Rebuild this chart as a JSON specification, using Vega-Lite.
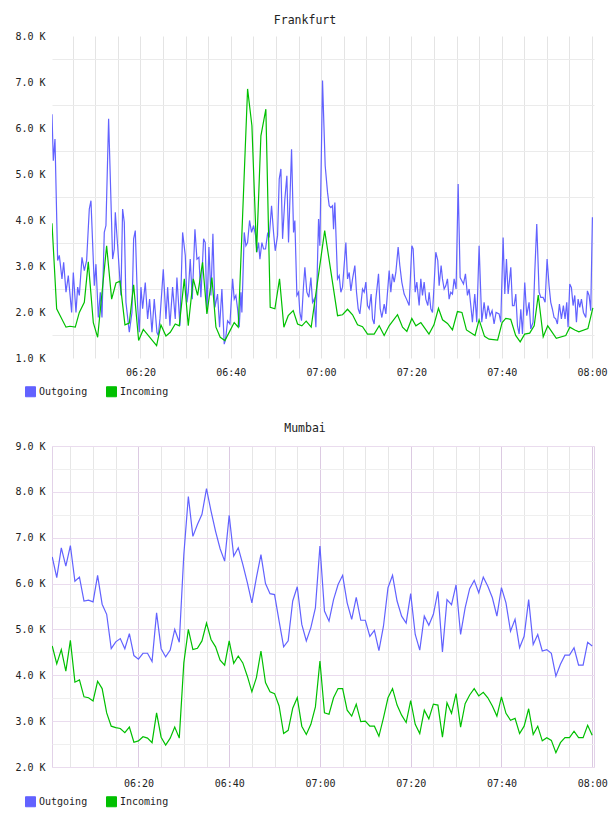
{
"$schema": "https://vega.github.io/schema/vega-lite/v6.json",
"padding": {"left": 14, "top": 15, "right": 0, "bottom": 0},
"background": "white",
"config": {
  "font": "DejaVu Sans Mono",
  "view": {"stroke": null},
  "axis": {"labelFont": "DejaVu Sans Mono", "labelFontSize": 10, "labelColor": "#222", "ticks": false, "domain": false, "title": null, "labelFlush": false, "labelOverlap": false, "labelBound": false},
  "legend": {"orient": "none", "legendX": -27, "legendY": 350, "direction": "horizontal", "title": null, "symbolType": "square", "symbolSize": 100, "labelFont": "DejaVu Sans Mono", "labelFontSize": 10, "labelColor": "#222", "columnPadding": 16, "labelOffset": 3},
  "title": {"font": "DejaVu Sans Mono", "fontSize": 11.5, "fontWeight": "normal", "color": "#222", "dx": -18, "offset": 4.5}
},
"resolve": {"legend": {"color": "independent"}},
"spacing": 23,
"datasets": {
"fra": [
{"t":0.4,"Outgoing":6.3},{"t":0.69,"Outgoing":5.29},{"t":1.06,"Outgoing":5.76},{"t":1.65,"Outgoing":3.12},{"t":2.02,"Outgoing":3.23},{"t":2.61,"Outgoing":2.72},{"t":2.98,"Outgoing":3.08},{"t":3.5,"Outgoing":2.43},{"t":4.01,"Outgoing":2.79},{"t":4.75,"Outgoing":1.99},{"t":5.12,"Outgoing":2.86},{"t":5.71,"Outgoing":1.99},{"t":6.08,"Outgoing":2.54},{"t":6.45,"Outgoing":2.36},{"t":7.04,"Outgoing":3.19},{"t":7.56,"Outgoing":2.9},{"t":8.07,"Outgoing":3.12},{"t":8.66,"Outgoing":4.24},{"t":9.03,"Outgoing":4.42},{"t":9.77,"Outgoing":2.57},{"t":10.14,"Outgoing":3.04},{"t":10.66,"Outgoing":1.88},{"t":11.1,"Outgoing":2.43},{"t":11.47,"Outgoing":1.88},{"t":11.98,"Outgoing":3.73},{"t":12.35,"Outgoing":3.88},{"t":12.94,"Outgoing":6.2},{"t":13.83,"Outgoing":3.15},{"t":14.2,"Outgoing":3.37},{"t":14.42,"Outgoing":4.17},{"t":14.94,"Outgoing":3.44},{"t":15.67,"Outgoing":2.36},{"t":16.04,"Outgoing":4.24},{"t":16.41,"Outgoing":3.95},{"t":16.78,"Outgoing":2.21},{"t":17.52,"Outgoing":1.56},{"t":18.11,"Outgoing":1.99},{"t":18.48,"Outgoing":3.59},{"t":18.85,"Outgoing":3.77},{"t":19.36,"Outgoing":2.14},{"t":19.73,"Outgoing":1.56},{"t":20.1,"Outgoing":2.54},{"t":20.47,"Outgoing":2.07},{"t":21.06,"Outgoing":2.64},{"t":21.58,"Outgoing":1.85},{"t":22.02,"Outgoing":2.28},{"t":22.54,"Outgoing":1.56},{"t":23.05,"Outgoing":2.28},{"t":23.64,"Outgoing":1.56},{"t":23.94,"Outgoing":1.49},{"t":24.31,"Outgoing":1.85},{"t":25.05,"Outgoing":2.93},{"t":25.64,"Outgoing":1.85},{"t":26.01,"Outgoing":2.54},{"t":26.52,"Outgoing":1.7},{"t":27.11,"Outgoing":2.54},{"t":27.7,"Outgoing":1.85},{"t":28.07,"Outgoing":2.75},{"t":28.74,"Outgoing":1.7},{"t":29.33,"Outgoing":3.73},{"t":29.92,"Outgoing":3.23},
{"t":30.29,"Outgoing":2.21},{"t":30.58,"Outgoing":2.43},{"t":31.02,"Outgoing":3.15},{"t":31.47,"Outgoing":2.28},{"t":32.06,"Outgoing":3.8},{"t":32.5,"Outgoing":3.15},{"t":32.94,"Outgoing":3.19},{"t":33.38,"Outgoing":2.32},{"t":33.98,"Outgoing":3.59},{"t":34.34,"Outgoing":3.51},{"t":34.71,"Outgoing":1.99},{"t":35.16,"Outgoing":3.41},{"t":35.6,"Outgoing":2.36},{"t":36.04,"Outgoing":3.7},{"t":36.48,"Outgoing":2.1},{"t":37.07,"Outgoing":2.39},{"t":37.52,"Outgoing":1.67},{"t":38.03,"Outgoing":2.5},{"t":38.55,"Outgoing":1.3},{"t":38.85,"Outgoing":1.41},{"t":39.29,"Outgoing":1.81},{"t":39.81,"Outgoing":1.74},{"t":40.4,"Outgoing":2.72},{"t":40.76,"Outgoing":2.28},{"t":41.13,"Outgoing":2.36},{"t":41.5,"Outgoing":2.07},{"t":41.87,"Outgoing":1.67},{"t":42.24,"Outgoing":2.43},{"t":42.46,"Outgoing":1.99},{"t":42.98,"Outgoing":3.73},{"t":43.35,"Outgoing":3.44},{"t":43.72,"Outgoing":3.51},{"t":44.16,"Outgoing":3.99},{"t":44.6,"Outgoing":3.73},{"t":45.05,"Outgoing":3.88},{"t":45.49,"Outgoing":3.66},{"t":45.78,"Outgoing":3.3},{"t":46.15,"Outgoing":3.51},{"t":46.45,"Outgoing":3.15},{"t":46.89,"Outgoing":3.51},{"t":47.26,"Outgoing":3.37},{"t":47.7,"Outgoing":3.37},{"t":48.14,"Outgoing":3.7},{"t":48.51,"Outgoing":3.62},{"t":49.03,"Outgoing":4.31},{"t":49.47,"Outgoing":3.73},{"t":49.84,"Outgoing":3.33},{"t":50.36,"Outgoing":3.66},{"t":50.73,"Outgoing":4.89},{"t":51.1,"Outgoing":5.11},{"t":51.47,"Outgoing":3.59},{"t":51.98,"Outgoing":4.46},{"t":52.42,"Outgoing":4.96},{"t":52.79,"Outgoing":3.51},{"t":53.46,"Outgoing":5.54},{"t":53.9,"Outgoing":3.73},{"t":54.19,"Outgoing":3.99},{"t":54.64,"Outgoing":2.36},{"t":55.01,"Outgoing":2.43},{"t":55.3,"Outgoing":1.99},{"t":55.67,"Outgoing":1.81},{"t":56.11,"Outgoing":2.57},{"t":56.41,"Outgoing":2.97},{"t":56.85,"Outgoing":2.43},{"t":57.29,"Outgoing":2.32},{"t":57.74,"Outgoing":2.75},{"t":58.11,"Outgoing":2.21},{"t":58.47,"Outgoing":2.28},{"t":58.85,"Outgoing":1.67},{"t":59.44,"Outgoing":4.02},{"t":59.73,"Outgoing":3.44},
{"t":60.32,"Outgoing":7.03},{"t":60.91,"Outgoing":5.18},{"t":61.43,"Outgoing":4.6},{"t":61.8,"Outgoing":4.31},{"t":62.17,"Outgoing":4.27},{"t":62.54,"Outgoing":4.31},{"t":62.76,"Outgoing":3.8},{"t":63.05,"Outgoing":4.38},{"t":63.64,"Outgoing":2.72},{"t":64.01,"Outgoing":2.79},{"t":64.38,"Outgoing":2.43},{"t":64.75,"Outgoing":2.54},{"t":65.49,"Outgoing":3.51},{"t":65.86,"Outgoing":2.72},{"t":66.23,"Outgoing":2.86},{"t":66.6,"Outgoing":2.46},{"t":66.97,"Outgoing":2.72},{"t":67.48,"Outgoing":3.01},{"t":67.85,"Outgoing":2.43},{"t":68.22,"Outgoing":2.07},{"t":68.59,"Outgoing":1.96},{"t":69.18,"Outgoing":2.5},{"t":69.55,"Outgoing":2.43},{"t":69.92,"Outgoing":2.65},{"t":70.29,"Outgoing":2.14},{"t":70.66,"Outgoing":2.07},{"t":71.09,"Outgoing":2.39},{"t":71.39,"Outgoing":1.85},{"t":71.76,"Outgoing":1.74},{"t":72.13,"Outgoing":2.28},{"t":72.72,"Outgoing":2.83},{"t":73.09,"Outgoing":2.07},{"t":73.46,"Outgoing":1.88},{"t":73.98,"Outgoing":2.17},{"t":74.35,"Outgoing":1.96},{"t":75.08,"Outgoing":2.9},{"t":75.45,"Outgoing":2.43},{"t":75.82,"Outgoing":2.83},{"t":76.19,"Outgoing":2.65},{"t":76.56,"Outgoing":2.86},{"t":77.07,"Outgoing":3.41},{"t":77.44,"Outgoing":3.01},{"t":77.88,"Outgoing":2.65},{"t":78.4,"Outgoing":2.39},{"t":78.92,"Outgoing":2.28},{"t":79.51,"Outgoing":2.14},{"t":80.1,"Outgoing":3.44},{"t":80.39,"Outgoing":3.37},{"t":80.84,"Outgoing":2.43},{"t":81.21,"Outgoing":2.65},{"t":81.72,"Outgoing":2.14},{"t":82.09,"Outgoing":2.72},{"t":82.46,"Outgoing":2.36},{"t":82.83,"Outgoing":2.65},{"t":83.2,"Outgoing":2.28},{"t":83.64,"Outgoing":2.14},{"t":83.94,"Outgoing":2.43},{"t":84.31,"Outgoing":2.07},{"t":84.68,"Outgoing":1.99},{"t":84.9,"Outgoing":2.36},{"t":85.41,"Outgoing":3.3},{"t":85.85,"Outgoing":3.12},{"t":86.15,"Outgoing":2.57},{"t":86.59,"Outgoing":3.01},{"t":86.89,"Outgoing":2.72},{"t":87.26,"Outgoing":2.5},{"t":87.62,"Outgoing":2.57},{"t":87.99,"Outgoing":2.72},{"t":88.36,"Outgoing":2.28},{"t":88.73,"Outgoing":2.43},{"t":89.1,"Outgoing":2.39},{"t":89.47,"Outgoing":2.72},{"t":89.9,"Outgoing":2.5},
{"t":90.36,"Outgoing":4.78},{"t":90.8,"Outgoing":2.75},{"t":91.17,"Outgoing":2.68},{"t":91.54,"Outgoing":2.61},{"t":91.98,"Outgoing":2.83},{"t":92.42,"Outgoing":2.36},{"t":92.79,"Outgoing":2.5},{"t":93.16,"Outgoing":2.14},{"t":93.52,"Outgoing":1.78},{"t":94.04,"Outgoing":2.39},{"t":94.48,"Outgoing":1.78},{"t":95.0,"Outgoing":3.44},{"t":95.59,"Outgoing":1.78},{"t":96.11,"Outgoing":2.21},{"t":96.55,"Outgoing":1.85},{"t":96.99,"Outgoing":2.14},{"t":97.44,"Outgoing":1.92},{"t":97.88,"Outgoing":2.03},{"t":98.32,"Outgoing":1.74},{"t":98.76,"Outgoing":1.99},{"t":99.43,"Outgoing":1.96},{"t":99.8,"Outgoing":1.78},{"t":100.32,"Outgoing":3.62},{"t":100.69,"Outgoing":2.39},{"t":101.06,"Outgoing":3.15},{"t":101.43,"Outgoing":2.39},{"t":102.02,"Outgoing":2.97},{"t":102.39,"Outgoing":2.14},{"t":102.76,"Outgoing":2.14},{"t":103.13,"Outgoing":2.39},{"t":103.5,"Outgoing":1.7},{"t":103.87,"Outgoing":1.52},{"t":104.24,"Outgoing":2.06},{"t":104.61,"Outgoing":1.52},{"t":105.11,"Outgoing":2.64},{"t":105.55,"Outgoing":1.92},{"t":106.07,"Outgoing":2.21},{"t":106.44,"Outgoing":1.63},{"t":106.95,"Outgoing":1.78},{"t":107.33,"Outgoing":2.86},{"t":107.77,"Outgoing":3.91},{"t":108.29,"Outgoing":2.43},{"t":108.66,"Outgoing":2.32},{"t":109.17,"Outgoing":2.32},{"t":109.62,"Outgoing":2.21},{"t":110.06,"Outgoing":3.15},{"t":110.5,"Outgoing":2.57},{"t":110.87,"Outgoing":2.21},{"t":111.24,"Outgoing":2.06},{"t":111.61,"Outgoing":1.88},{"t":111.98,"Outgoing":1.85},{"t":112.34,"Outgoing":1.74},{"t":112.79,"Outgoing":2.17},{"t":113.23,"Outgoing":1.85},{"t":113.67,"Outgoing":2.14},{"t":114.04,"Outgoing":1.85},{"t":114.41,"Outgoing":2.21},{"t":114.71,"Outgoing":1.67},{"t":115.08,"Outgoing":2.61},{"t":115.45,"Outgoing":2.53},{"t":115.82,"Outgoing":2.14},{"t":116.19,"Outgoing":2.36},{"t":116.56,"Outgoing":1.78},{"t":116.93,"Outgoing":2.28},{"t":117.3,"Outgoing":2.1},{"t":117.67,"Outgoing":2.28},{"t":118.11,"Outgoing":1.99},{"t":118.63,"Outgoing":1.88},{"t":118.99,"Outgoing":2.46},{"t":119.36,"Outgoing":2.36},{"t":119.73,"Outgoing":2.03},{"t":120.1,"Outgoing":4.06},
{"t":0.4,"Incoming":3.93},{"t":1.43,"Incoming":2.07},{"t":3.5,"Incoming":1.67},{"t":4.38,"Incoming":1.69},{"t":5.56,"Incoming":1.67},{"t":6.45,"Incoming":1.99},{"t":7.56,"Incoming":2.21},{"t":8.44,"Incoming":3.09},{"t":9.55,"Incoming":1.77},{"t":10.51,"Incoming":1.45},{"t":12.5,"Incoming":3.44},{"t":13.61,"Incoming":2.28},{"t":14.57,"Incoming":2.63},{"t":15.45,"Incoming":2.67},{"t":16.56,"Incoming":1.72},{"t":17.52,"Incoming":1.76},{"t":18.48,"Incoming":2.59},{"t":19.59,"Incoming":1.38},{"t":20.62,"Incoming":1.62},{"t":23.57,"Incoming":1.27},{"t":24.53,"Incoming":1.72},{"t":25.64,"Incoming":1.48},{"t":26.6,"Incoming":1.56},{"t":27.7,"Incoming":1.74},{"t":28.59,"Incoming":1.7},{"t":29.7,"Incoming":2.72},{"t":30.58,"Incoming":1.7},{"t":31.69,"Incoming":2.72},{"t":32.65,"Incoming":2.36},{"t":33.75,"Incoming":3.08},{"t":34.71,"Incoming":1.96},{"t":35.82,"Incoming":2.75},{"t":36.71,"Incoming":1.67},{"t":37.66,"Incoming":1.45},{"t":38.7,"Incoming":1.38},{"t":39.81,"Incoming":1.59},{"t":40.76,"Incoming":1.77},{"t":41.65,"Incoming":1.67},{"t":43.72,"Incoming":6.85},{"t":44.68,"Incoming":6.05},{"t":45.71,"Incoming":3.3},{"t":46.67,"Incoming":5.83},{"t":47.77,"Incoming":6.41},{"t":48.73,"Incoming":2.1},{"t":49.77,"Incoming":2.07},{"t":50.8,"Incoming":2.72},{"t":51.76,"Incoming":1.67},{"t":52.72,"Incoming":1.92},{"t":53.83,"Incoming":2.03},{"t":54.79,"Incoming":1.74},{"t":55.74,"Incoming":1.7},{"t":56.7,"Incoming":1.8},{"t":57.81,"Incoming":1.67},{"t":60.8,"Incoming":3.77},{"t":63.65,"Incoming":1.92},{"t":64.75,"Incoming":1.94},{"t":65.86,"Incoming":2.06},{"t":66.97,"Incoming":1.94},{"t":68.08,"Incoming":1.72},{"t":69.18,"Incoming":1.68},{"t":70.29,"Incoming":1.52},{"t":71.76,"Incoming":1.52},{"t":72.87,"Incoming":1.7},{"t":73.97,"Incoming":1.49},{"t":75.07,"Incoming":1.7},{"t":76.93,"Incoming":1.94},{"t":78.04,"Incoming":1.67},{"t":79.0,"Incoming":1.58},{"t":80.1,"Incoming":1.86},{"t":81.0,"Incoming":1.7},{"t":82.1,"Incoming":1.77},{"t":83.9,"Incoming":1.52},{"t":85.0,"Incoming":1.72},{"t":86.0,"Incoming":2.08},{"t":86.9,"Incoming":1.83},{"t":88.0,"Incoming":1.75},{"t":89.1,"Incoming":1.61},{"t":90.2,"Incoming":2.01},{"t":91.2,"Incoming":1.99},{"t":92.2,"Incoming":1.61},{"t":94.1,"Incoming":1.49},{"t":95.0,"Incoming":1.83},{"t":96.2,"Incoming":1.47},{"t":97.2,"Incoming":1.41},{"t":99.1,"Incoming":1.39},{"t":100.1,"Incoming":1.77},{"t":100.9,"Incoming":1.86},{"t":102.0,"Incoming":1.84},{"t":103.1,"Incoming":1.49},{"t":104.1,"Incoming":1.35},{"t":105.1,"Incoming":1.52},{"t":106.2,"Incoming":1.54},{"t":107.2,"Incoming":1.7},{"t":108.1,"Incoming":2.37},{"t":109.2,"Incoming":1.46},{"t":110.2,"Incoming":1.7},{"t":112.1,"Incoming":1.43},{"t":114.2,"Incoming":1.49},{"t":115.1,"Incoming":1.67},{"t":116.2,"Incoming":1.61},{"t":117.1,"Incoming":1.57},{"t":119.1,"Incoming":1.64},{"t":120.2,"Incoming":2.09}
],
"mum": [
{"t":1,"Outgoing":6.58,"Incoming":4.64},{"t":2,"Outgoing":6.13,"Incoming":4.25},{"t":3,"Outgoing":6.78,"Incoming":4.56},{"t":4,"Outgoing":6.38,"Incoming":4.09},{"t":5,"Outgoing":6.83,"Incoming":4.76},{"t":6,"Outgoing":6.05,"Incoming":3.85},{"t":7,"Outgoing":6.14,"Incoming":3.9},{"t":8,"Outgoing":5.62,"Incoming":3.53},{"t":9,"Outgoing":5.64,"Incoming":3.51},{"t":10,"Outgoing":5.6,"Incoming":3.44},
{"t":11,"Outgoing":6.18,"Incoming":3.87},{"t":12,"Outgoing":5.55,"Incoming":3.71},{"t":13,"Outgoing":5.33,"Incoming":3.18},{"t":14,"Outgoing":4.58,"Incoming":2.89},{"t":15,"Outgoing":4.73,"Incoming":2.86},{"t":16,"Outgoing":4.8,"Incoming":2.84},{"t":17,"Outgoing":4.58,"Incoming":2.75},{"t":18,"Outgoing":4.91,"Incoming":2.87},{"t":19,"Outgoing":4.43,"Incoming":2.54},{"t":20,"Outgoing":4.35,"Incoming":2.57},
{"t":21,"Outgoing":4.48,"Incoming":2.66},{"t":22,"Outgoing":4.48,"Incoming":2.63},{"t":23,"Outgoing":4.3,"Incoming":2.53},{"t":24,"Outgoing":5.36,"Incoming":3.18},{"t":25,"Outgoing":4.58,"Incoming":2.65},{"t":26,"Outgoing":4.4,"Incoming":2.48},{"t":27,"Outgoing":4.55,"Incoming":2.63},{"t":28,"Outgoing":5.0,"Incoming":2.87},{"t":29,"Outgoing":4.72,"Incoming":2.63},{"t":30,"Outgoing":6.63,"Incoming":4.27},
{"t":31,"Outgoing":7.9,"Incoming":5.0},{"t":32,"Outgoing":7.03,"Incoming":4.56},{"t":33,"Outgoing":7.29,"Incoming":4.59},{"t":34,"Outgoing":7.51,"Incoming":4.75},{"t":35,"Outgoing":8.07,"Incoming":5.14},{"t":36,"Outgoing":7.58,"Incoming":4.78},{"t":37,"Outgoing":7.14,"Incoming":4.62},{"t":38,"Outgoing":6.76,"Incoming":4.33},{"t":39,"Outgoing":6.49,"Incoming":4.22},{"t":40,"Outgoing":7.49,"Incoming":4.75},
{"t":41,"Outgoing":6.6,"Incoming":4.26},{"t":42,"Outgoing":6.78,"Incoming":4.42},{"t":43,"Outgoing":6.42,"Incoming":4.27},{"t":44,"Outgoing":6.02,"Incoming":3.98},{"t":45,"Outgoing":5.58,"Incoming":3.64},{"t":46,"Outgoing":6.13,"Incoming":3.95},{"t":47,"Outgoing":6.63,"Incoming":4.53},{"t":48,"Outgoing":6.0,"Incoming":3.84},{"t":49,"Outgoing":5.78,"Incoming":3.64},{"t":50,"Outgoing":5.76,"Incoming":3.6},
{"t":51,"Outgoing":5.18,"Incoming":3.33},{"t":52,"Outgoing":4.62,"Incoming":2.73},{"t":53,"Outgoing":4.75,"Incoming":2.8},{"t":54,"Outgoing":5.62,"Incoming":3.28},{"t":55,"Outgoing":5.93,"Incoming":3.51},{"t":56,"Outgoing":5.11,"Incoming":2.89},{"t":57,"Outgoing":4.75,"Incoming":2.71},{"t":58,"Outgoing":5.04,"Incoming":2.93},{"t":59,"Outgoing":5.47,"Incoming":3.31},{"t":60,"Outgoing":6.82,"Incoming":4.31},
{"t":61,"Outgoing":5.4,"Incoming":3.18},{"t":62,"Outgoing":5.18,"Incoming":3.15},{"t":63,"Outgoing":5.65,"Incoming":3.51},{"t":64,"Outgoing":5.98,"Incoming":3.71},{"t":65,"Outgoing":6.18,"Incoming":3.71},{"t":66,"Outgoing":5.58,"Incoming":3.24},{"t":67,"Outgoing":5.22,"Incoming":3.11},{"t":68,"Outgoing":5.7,"Incoming":3.37},{"t":69,"Outgoing":5.2,"Incoming":2.99},{"t":70,"Outgoing":5.2,"Incoming":3.0},
{"t":71,"Outgoing":4.85,"Incoming":2.89},{"t":72,"Outgoing":4.98,"Incoming":2.89},{"t":73,"Outgoing":4.54,"Incoming":2.67},{"t":74,"Outgoing":5.07,"Incoming":3.07},{"t":75,"Outgoing":5.91,"Incoming":3.51},{"t":76,"Outgoing":6.18,"Incoming":3.71},{"t":77,"Outgoing":5.62,"Incoming":3.35},{"t":78,"Outgoing":5.29,"Incoming":3.13},{"t":79,"Outgoing":5.14,"Incoming":2.97},{"t":80,"Outgoing":5.78,"Incoming":3.45},
{"t":81,"Outgoing":4.89,"Incoming":2.93},{"t":82,"Outgoing":4.55,"Incoming":2.73},{"t":83,"Outgoing":5.29,"Incoming":3.24},{"t":84,"Outgoing":5.09,"Incoming":3.05},{"t":85,"Outgoing":5.33,"Incoming":3.37},{"t":86,"Outgoing":5.83,"Incoming":3.35},{"t":87,"Outgoing":4.51,"Incoming":2.65},{"t":88,"Outgoing":5.65,"Incoming":3.4},{"t":89,"Outgoing":5.54,"Incoming":3.17},{"t":90,"Outgoing":5.97,"Incoming":3.6},
{"t":91,"Outgoing":4.89,"Incoming":2.87},{"t":92,"Outgoing":5.47,"Incoming":3.38},{"t":93,"Outgoing":5.89,"Incoming":3.57},{"t":94,"Outgoing":6.07,"Incoming":3.71},{"t":95,"Outgoing":5.8,"Incoming":3.55},{"t":96,"Outgoing":6.14,"Incoming":3.63},{"t":97,"Outgoing":5.94,"Incoming":3.51},{"t":98,"Outgoing":5.69,"Incoming":3.33},{"t":99,"Outgoing":5.29,"Incoming":3.11},{"t":100,"Outgoing":5.91,"Incoming":3.53},
{"t":101,"Outgoing":5.58,"Incoming":3.17},{"t":102,"Outgoing":4.96,"Incoming":3.02},{"t":103,"Outgoing":5.22,"Incoming":3.06},{"t":104,"Outgoing":4.6,"Incoming":2.73},{"t":105,"Outgoing":4.85,"Incoming":2.89},{"t":106,"Outgoing":5.65,"Incoming":3.27},{"t":107,"Outgoing":4.67,"Incoming":2.71},{"t":108,"Outgoing":4.89,"Incoming":2.89},{"t":109,"Outgoing":4.53,"Incoming":2.57},{"t":110,"Outgoing":4.56,"Incoming":2.64},
{"t":111,"Outgoing":4.48,"Incoming":2.58},{"t":112,"Outgoing":3.98,"Incoming":2.31},{"t":113,"Outgoing":4.24,"Incoming":2.53},{"t":114,"Outgoing":4.44,"Incoming":2.64},{"t":115,"Outgoing":4.44,"Incoming":2.64},{"t":116,"Outgoing":4.6,"Incoming":2.78},{"t":117,"Outgoing":4.22,"Incoming":2.64},{"t":118,"Outgoing":4.22,"Incoming":2.64},{"t":119,"Outgoing":4.72,"Incoming":2.91},{"t":120,"Outgoing":4.64,"Incoming":2.69}
]
},
"vconcat": [
{
  "title": {"text": "Frankfurt"},
  "width": 542, "height": 322,
  "data": {"name": "fra"},
  "transform": [{"fold": ["Outgoing", "Incoming"], "as": ["s", "v"]}, {"filter": "isValid(datum.v)"}],
  "mark": {"type": "line", "strokeWidth": 1.2, "clip": true},
  "encoding": {
    "x": {"field": "t", "type": "quantitative", "scale": {"domain": [0.4, 120.45], "nice": false, "zero": false},
      "axis": {"values": [5,10,15,20,25,30,35,40,45,50,55,60,65,70,75,80,85,90,95,100,105,110,115,120], "labelExpr": "datum.value % 20 === 0 ? timeFormat(datetime(2000,0,1,6,datum.value,0,0),'%H:%M') : ''", "grid": true, "gridColor": "#e4e4e4", "labelPadding": 9}},
    "y": {"field": "v", "type": "quantitative", "scale": {"domain": [1, 8], "nice": false, "zero": false},
      "axis": {"values": [1,1.5,2,2.5,3,3.5,4,4.5,5,5.5,6,6.5,7,7.5,8], "labelExpr": "datum.value % 1 === 0 ? format(datum.value, '.1f') + ' K' : ''", "grid": true, "gridColor": "#ebebeb", "gridOpacity": {"condition": {"test": "datum.value % 1 !== 0", "value": 1}, "value": 0}, "labelPadding": 7}},
    "color": {"field": "s", "type": "nominal", "scale": {"domain": ["Outgoing", "Incoming"], "range": ["#6262ff", "#00c000"]},
      "legend": {"encode": {"symbols": {"update": {"fill": {"signal": "datum.value === 'Outgoing' ? '#6262ff' : '#00c000'"}, "stroke": {"value": "#888888"}, "strokeWidth": {"value": 1}, "opacity": {"value": 1}}}}}}
  }
},
{
  "title": {"text": "Mumbai", "offset": 6.5},
  "width": 542, "height": 321,
  "view": {"stroke": "#e2d2e8"},
  "data": {"name": "mum"},
  "transform": [{"fold": ["Outgoing", "Incoming"], "as": ["s", "v"]}, {"filter": "isValid(datum.v)"}],
  "mark": {"type": "line", "strokeWidth": 1.2, "clip": true},
  "encoding": {
    "x": {"field": "t", "type": "quantitative", "scale": {"domain": [0.95, 120.4], "nice": false, "zero": false},
      "axis": {"values": [5,10,15,20,25,30,35,40,45,50,55,60,65,70,75,80,85,90,95,100,105,110,115,120], "labelExpr": "datum.value % 20 === 0 ? timeFormat(datetime(2000,0,1,6,datum.value,0,0),'%H:%M') : ''", "grid": true, "gridColor": {"condition": {"test": "datum.value % 20 === 0", "value": "#dccae2"}, "value": "#e6e6e6"}, "labelPadding": 11}},
    "y": {"field": "v", "type": "quantitative", "scale": {"domain": [2, 9], "nice": false, "zero": false},
      "axis": {"values": [2,2.5,3,3.5,4,4.5,5,5.5,6,6.5,7,7.5,8,8.5,9], "labelExpr": "datum.value % 1 === 0 ? format(datum.value, '.1f') + ' K' : ''", "grid": true, "gridColor": {"condition": {"test": "datum.value % 1 === 0", "value": "#eadcee"}, "value": "#efefef"}, "labelPadding": 7}},
    "color": {"field": "s", "type": "nominal", "scale": {"domain": ["Outgoing", "Incoming"], "range": ["#6262ff", "#00c000"]},
      "legend": {"encode": {"symbols": {"update": {"fill": {"signal": "datum.value === 'Outgoing' ? '#6262ff' : '#00c000'"}, "stroke": {"value": "#888888"}, "strokeWidth": {"value": 1}, "opacity": {"value": 1}}}}}}
  }
}
]
}
